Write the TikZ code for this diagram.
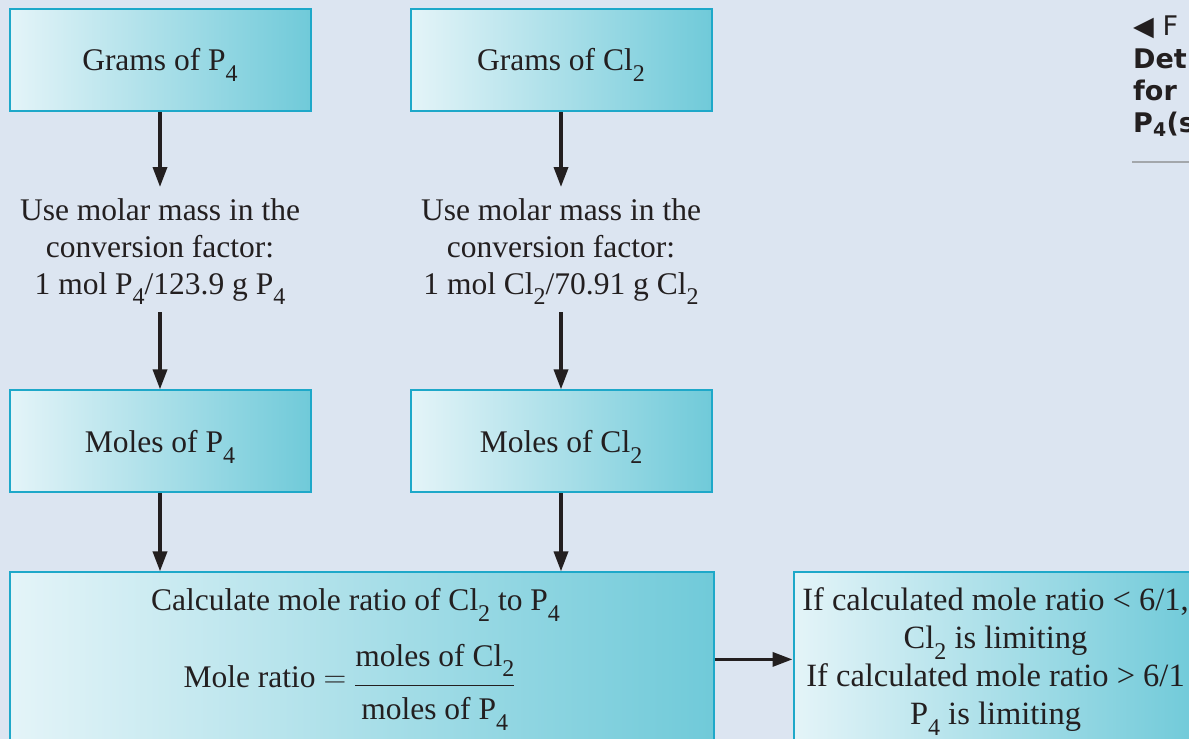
\RequirePackage{fix-cm}
\documentclass[tikz,border=0pt]{standalone}
\usepackage{amsmath}
\usepackage{fontspec}
\setmainfont{Liberation Serif}
\newfontfamily\capfont{DejaVu Sans}
\usepackage{xcolor}
\usetikzlibrary{arrows.meta,positioning,calc}

\definecolor{pagebg}{HTML}{DCE5F1}
\definecolor{boxlight}{HTML}{E4F4F8}
\definecolor{boxdark}{HTML}{70CAD9}
\definecolor{boxline}{HTML}{1EA8C9}
\definecolor{ink}{HTML}{231F20}
\definecolor{rulegray}{HTML}{A3A7AB}
\newcommand{\mainsize}{\fontsize{31.5}{37}\selectfont}
\newcommand{\chemsub}[1]{\raisebox{-0.34em}[0pt][0pt]{\fontsize{24}{24}\selectfont #1}}

\begin{document}
\begin{tikzpicture}[
  x=1pt, y=-1pt,
  stage/.style={draw=boxline, line width=2pt, left color=boxlight, right color=boxdark,
                minimum width=301pt, minimum height=102pt, inner sep=0pt,
                font=\mainsize, text=ink},
  note/.style={align=center, font=\mainsize, text=ink, inner sep=0pt, minimum height=125pt},
  txt/.style={font=\mainsize, text=ink, inner sep=0pt, anchor=base},
  ar/.style={-{Triangle[length=20pt, width=14pt]}, line width=3.5pt, draw=ink},
  capt/.style={font=\capfont\fontsize{27}{32}\selectfont, text=ink, inner sep=0pt, anchor=base west}
]
  \useasboundingbox (0,0) rectangle (1189,739);
  \fill[pagebg] (0,0) rectangle (1189,739);
  \clip (0,0) rectangle (1189,739);

  % two columns
  \node[stage] (gp) at (160,60) {Grams of P\chemsub{4}};
  \node[stage] (gcl) at (561,60) {Grams of Cl\chemsub{2}};
  \node[note, below=75pt of gp] (molp) {Use molar mass in the\\conversion factor:\\1 mol P\chemsub{4}/123.9 g P\chemsub{4}};
  \node[note, below=75pt of gcl] (molcl) {Use molar mass in the\\conversion factor:\\1 mol Cl\chemsub{2}/70.91 g Cl\chemsub{2}};
  \node[stage, below=77pt of molp] (mp) {Moles of P\chemsub{4}};
  \node[stage, below=77pt of molcl] (mcl) {Moles of Cl\chemsub{2}};

  % ratio and result
  \node[stage, minimum width=704pt, minimum height=174pt, anchor=north west] (ratio)
    at ([yshift=-78pt]mp.south west) {};
  \node[txt] (ratiohead) at ([xshift=-6pt, yshift=-39pt]ratio.north)
    {Calculate mole ratio of Cl\chemsub{2} to P\chemsub{4}};
  \node[txt] (ratioeq) at ([xshift=-12pt, yshift=-116pt]ratio.north)
    {Mole ratio $=$ \raisebox{-6pt}{$\displaystyle\frac{\text{\raisebox{6pt}{moles of Cl\chemsub{2}}}}{\text{\rule{0pt}{30.5pt}moles of P\chemsub{4}}}$}};
  \node[stage, minimum width=404pt, minimum height=174pt, anchor=north west, align=center,
        font=\fontsize{32.5}{38}\selectfont] (limit) at ([xshift=78pt]ratio.north east)
    {If calculated mole ratio < 6/1,\\Cl\chemsub{2} is limiting\\If calculated mole ratio > 6/1\\P\chemsub{4} is limiting};

  \draw[ar] (gp) -- (molp);
  \draw[ar] (gcl) -- (molcl);
  \draw[ar] (molp) -- (mp);
  \draw[ar] (molcl) -- (mcl);
  \draw[ar] (mp) -- (mp |- ratio.north);
  \draw[ar] (mcl) -- (mcl |- ratio.north);
  \draw[ar] (ratio) -- (limit);

  % cropped figure caption
  \node[capt] (figtag) at (1133,35) {◀ F};
  \node[capt, font=\capfont\bfseries\fontsize{27}{32}\selectfont] (figtitle) at (1133,68) {Det};
  \node[capt, font=\capfont\bfseries\fontsize{27}{32}\selectfont] (figfor) at (1133,100) {for};
  \node[capt, font=\capfont\bfseries\fontsize{27}{32}\selectfont] (figeq) at (1133,132) {P\textsubscript{4}(s};
  \draw[rulegray, line width=1.5pt] (1132,162) -- (1189,162);
\end{tikzpicture}
\end{document}
